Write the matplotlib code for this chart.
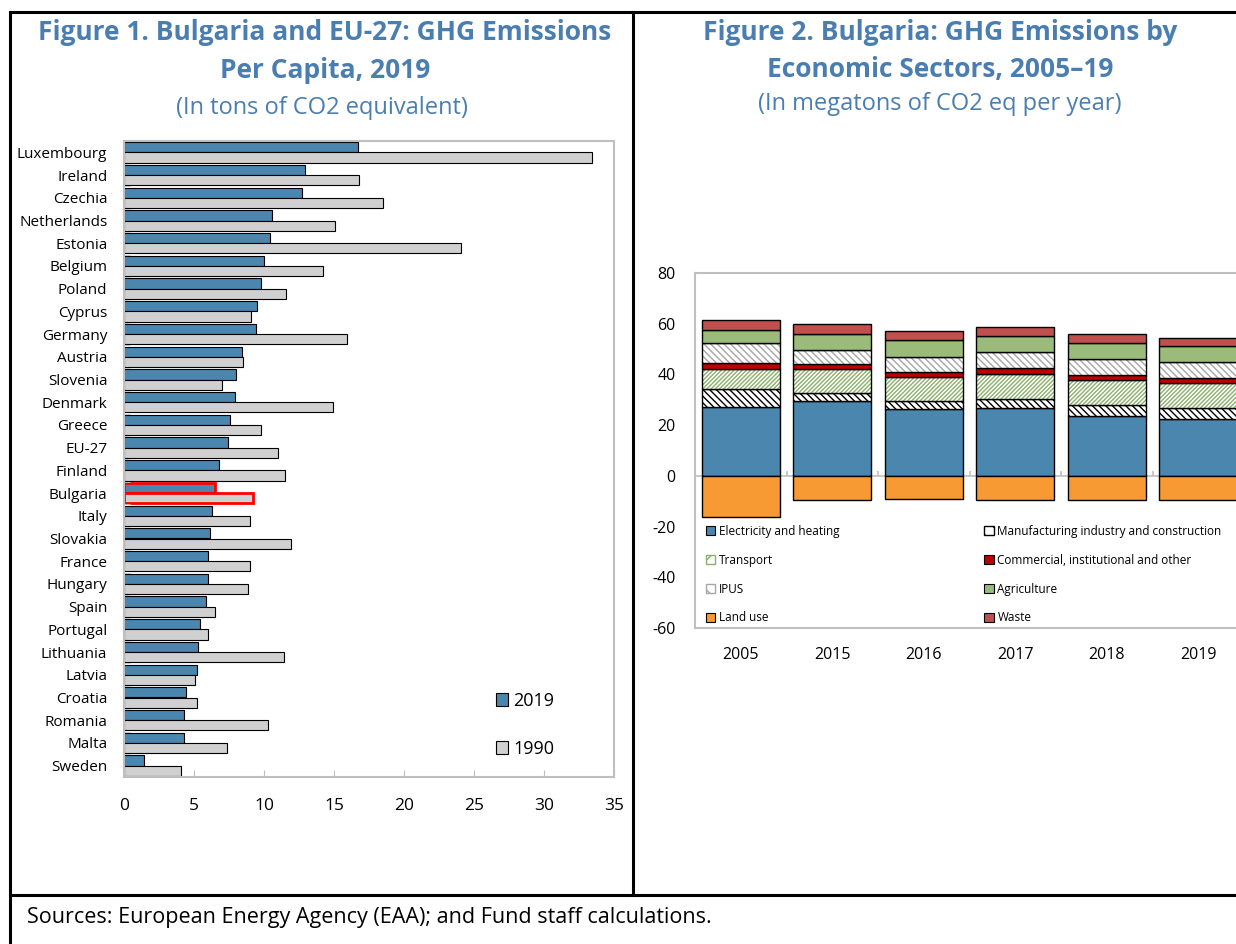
import numpy as np
import matplotlib.pyplot as plt
from matplotlib.patches import Patch
from matplotlib.lines import Line2D

plt.rcParams['font.family'] = ['Open Sans', 'DejaVu Sans']
plt.rcParams['hatch.linewidth'] = 1.0
plt.rcParams['axes.unicode_minus'] = False

# Figure 1 data: tons of CO2 eq per capita
countries = ['Luxembourg', 'Ireland', 'Czechia', 'Netherlands', 'Estonia', 'Belgium',
             'Poland', 'Cyprus', 'Germany', 'Austria', 'Slovenia', 'Denmark', 'Greece',
             'EU-27', 'Finland', 'Bulgaria', 'Italy', 'Slovakia', 'France', 'Hungary',
             'Spain', 'Portugal', 'Lithuania', 'Latvia', 'Croatia', 'Romania', 'Malta',
             'Sweden']
ghg_2019 = [16.7, 12.9, 12.7, 10.6, 10.4, 10.0, 9.8, 9.5, 9.45, 8.4, 8.0, 7.9, 7.6,
            7.4, 6.8, 6.5, 6.25, 6.15, 6.0, 6.0, 5.85, 5.4, 5.3, 5.2, 4.4, 4.3, 4.3, 1.45]
ghg_1990 = [33.4, 16.8, 18.5, 15.1, 24.1, 14.2, 11.6, 9.1, 15.9, 8.5, 7.0, 14.9, 9.8,
            11.0, 11.5, 9.2, 9.0, 11.95, 9.0, 8.85, 6.5, 6.0, 11.4, 5.1, 5.2, 10.3, 7.35, 4.1]

# Figure 2 data: megatons CO2 eq per year
years = ['2005', '2015', '2016', '2017', '2018', '2019']
elec = [27.1, 29.7, 26.3, 26.7, 23.6, 22.5]
manuf = [7.1, 2.9, 3.2, 3.8, 4.3, 4.3]
transport = [7.9, 9.5, 9.3, 9.6, 9.9, 9.8]
commercial = [2.6, 2.0, 2.1, 2.4, 1.8, 2.0]
ipus = [7.7, 5.6, 5.9, 6.4, 6.5, 6.4]
agri = [5.0, 6.2, 6.6, 6.4, 6.3, 6.1]
waste = [4.2, 3.8, 3.6, 3.4, 3.4, 3.2]
land_use = [-16.3, -9.5, -9.3, -9.5, -9.7, -9.7]

blue = '#4a86ad'
grey_bar = '#d0d0d0'
title_col = '#4a7eb0'
axis_col = '#bfbfbf'

W, H = 1236, 944
fig = plt.figure(figsize=(W / 100, H / 100), dpi=100)

def fx(px):
    return px / W

def fy(py):
    return 1 - py / H

# panel borders
for xs, ys in [([10, 1236], [12, 12]), ([10, 10], [12, 944]), ([633, 633], [12, 895]),
               ([10, 1236], [895, 895])]:
    fig.add_artist(Line2D([fx(x) for x in xs], [fy(y) for y in ys], color='black',
                          lw=2.2, transform=fig.transFigure))

# titles
tkw = dict(ha='center', va='center', fontsize=19, weight='bold', color=title_col)
skw = dict(ha='center', va='center', fontsize=17, color=title_col)
fig.text(fx(325), fy(32), 'Figure 1. Bulgaria and EU-27: GHG Emissions', **tkw)
fig.text(fx(325), fy(70), 'Per Capita, 2019', **tkw)
fig.text(fx(322), fy(108), '(In tons of CO2 equivalent)', **skw)
fig.text(fx(940), fy(32), 'Figure 2. Bulgaria: GHG Emissions by', **tkw)
fig.text(fx(940), fy(70), 'Economic Sectors, 2005\u201319', **tkw)
fig.text(fx(940), fy(104), '(In megatons of CO2 eq per year)', **skw)
fig.text(fx(27), fy(918), 'Sources: European Energy Agency (EAA); and Fund staff calculations.',
         ha='left', va='center', fontsize=15.5)

# ---- Figure 1 ----
ax1 = fig.add_axes([fx(124), fy(777), fx(614) - fx(124), fy(141) - fy(777)])
y = np.arange(len(countries))
h = 0.45
edges19 = ['red' if c == 'Bulgaria' else 'black' for c in countries]
lw19 = [2 if c == 'Bulgaria' else 0.8 for c in countries]
ax1.barh(y - h / 2, ghg_2019, height=h, color=blue, edgecolor=edges19, linewidth=lw19,
         label='2019')
ax1.barh(y + h / 2, ghg_1990, height=h, color=grey_bar, edgecolor=edges19, linewidth=lw19,
         label='1990')
ax1.set_ylim(len(countries) - 0.5, -0.5)
ax1.set_xlim(0, 35)
ax1.set_xticks(np.arange(0, 36, 5))
ax1.set_yticks(y)
ax1.set_yticklabels(countries)
ax1.set_yticks(np.arange(len(countries) + 1) - 0.5, minor=True)
ax1.tick_params(axis='y', which='major', length=0, pad=12, labelsize=11)
ax1.tick_params(axis='y', which='minor', length=4, direction='in', color=axis_col)
ax1.tick_params(axis='x', length=5, direction='in', color=axis_col, pad=15, labelsize=12.5)
for s in ax1.spines.values():
    s.set_color(axis_col)
    s.set_linewidth(1.5)
ax1.legend(loc='lower left', bbox_to_anchor=(0.725, 0.005), frameon=False, fontsize=13,
           handlelength=0.7, handleheight=0.7, handletextpad=0.3, labelspacing=1.65)

# ---- Figure 2 ----
ax2 = fig.add_axes([fx(695), fy(628), fx(1244) - fx(695), fy(273) - fy(628)])
x = np.arange(len(years))
bw = 0.85
series = [
    ('Electricity and heating', elec, blue, None, None),
    ('Manufacturing industry and construction', manuf, 'white', '\\\\\\\\\\', 'black'),
    ('Transport', transport, 'white', '////////', '#8ab06a'),
    ('Commercial, institutional and other', commercial, '#c00000', None, None),
    ('IPUS', ipus, 'white', '\\\\\\\\\\', '#a6a6a6'),
    ('Agriculture', agri, '#9bbb7b', None, None),
    ('Waste', waste, '#c0504d', None, None),
]
bottom = np.zeros(len(years))
handles = {}
for name, vals, col, hatch, hcol in series:
    if hatch:
        ax2.bar(x, vals, bw, bottom=bottom, color=col, edgecolor=hcol, hatch=hatch,
                linewidth=0)
        ax2.bar(x, vals, bw, bottom=bottom, fill=False, edgecolor='black', linewidth=1)
        handles[name] = Patch(facecolor=col, edgecolor=hcol,
                              hatch='\\\\' if '\\' in hatch else '//')
    else:
        ax2.bar(x, vals, bw, bottom=bottom, color=col, edgecolor='black', linewidth=1)
        handles[name] = Patch(facecolor=col, edgecolor='black', linewidth=0.8)
    bottom = bottom + np.array(vals)
ax2.bar(x, land_use, bw, color='#f79a34', edgecolor='black', linewidth=1)
handles['Land use'] = Patch(facecolor='#f79a34', edgecolor='black', linewidth=0.8)

ax2.axhline(0, color=axis_col, lw=1.2, zorder=0.5)
ax2.vlines(x[:-1] + 0.5, 0, 2, color=axis_col, lw=1.2)
ax2.set_xlim(-0.5, len(years) - 0.5)
ax2.set_ylim(-60, 80)
ax2.set_yticks(np.arange(-60, 81, 20))
ax2.set_xticks(x)
ax2.set_xticklabels(years)
ax2.tick_params(axis='x', length=0, pad=14, labelsize=11.5)
ax2.tick_params(axis='y', length=0, pad=14, labelsize=11.5)
for s in ax2.spines.values():
    s.set_color(axis_col)
    s.set_linewidth(1.5)

order = ['Electricity and heating', 'Transport', 'IPUS', 'Land use',
         'Manufacturing industry and construction', 'Commercial, institutional and other',
         'Agriculture', 'Waste']
ax2.legend([handles[k] for k in order], order, ncol=2, loc='upper left',
           bbox_to_anchor=(0.0, 0.32), frameon=False, fontsize=8.5, handlelength=0.8,
           handleheight=0.8, handletextpad=0.3, labelspacing=1.34, columnspacing=12.3)

fig.savefig('out.png', dpi=100)
